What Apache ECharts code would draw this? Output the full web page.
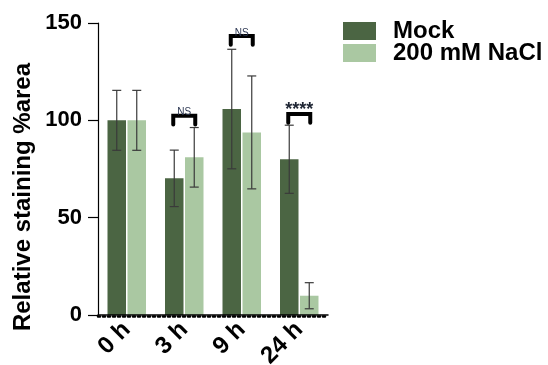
<!DOCTYPE html>
<html>
<head>
<meta charset="utf-8">
<script src="https://cdn.jsdelivr.net/npm/echarts@6/dist/echarts.min.js"></script>
<style>html,body{margin:0;padding:0;background:#fff}#c{width:548px;height:365px}</style>
</head>
<body>
<div id="c"></div>
<script>
var categories = ['0 h', '3 h', '9 h', '24 h'];
var seriesNames = ['Mock', '200 mM NaCl'];
var mockMean = [100, 70.2, 105.8, 80.0];
var mockErr = [15.4, 14.5, 30.7, 17.5];
var naclMean = [100, 81.0, 93.8, 9.9];
var naclErr = [15.4, 15.3, 29.0, 6.7];
var yTicks = [0, 50, 100, 150];
var bracketCats = [1, 2, 3];
var bracketTop = [102.4, 143.3, 103.2];
var bracketDrop = [4.5, 4.5, 4.5];
var bracketLabels = ['NS', 'NS', '****'];
var yTitle = 'Relative staining %area';

var FONT = '"Liberation Sans", Arial, sans-serif';
var BAR_W = 18.5, BAR_GAP_PX = 1.5;
var OFF = (BAR_W + BAR_GAP_PX) / 2;
var DARK = '#4b6543', LIGHT = '#aac8a2';

function errData(mean, err) {
  return mean.map(function (m, i) { return [i, m - err[i], m + err[i]]; });
}
function errSeries(mean, err, sign) {
  return {
    type: 'custom', xAxisIndex: 0, yAxisIndex: 0, silent: true, z: 5,
    data: errData(mean, err),
    renderItem: function (params, api) {
      var lo = api.coord([api.value(0), api.value(1)]);
      var hi = api.coord([api.value(0), api.value(2)]);
      var x = lo[0] + sign * OFF, cw = 4.5;
      var st = { stroke: '#3a3a3a', lineWidth: 1.2, fill: null };
      return { type: 'group', children: [
        { type: 'line', shape: { x1: x, y1: lo[1], x2: x, y2: hi[1] }, style: st },
        { type: 'line', shape: { x1: x - cw, y1: lo[1], x2: x + cw, y2: lo[1] }, style: st },
        { type: 'line', shape: { x1: x - cw, y1: hi[1], x2: x + cw, y2: hi[1] }, style: st }
      ]};
    }
  };
}

var chart = echarts.init(document.getElementById('c'), null, { renderer: 'canvas' });
chart.setOption({
  animation: false,
  backgroundColor: '#fff',
  grid: { left: 98, top: 23, right: 220, bottom: 50, containLabel: false, outerBoundsMode: 'none' },
  legend: {
    data: seriesNames, orient: 'vertical', left: 338, top: 14,
    itemWidth: 33, itemHeight: 18, itemGap: -2,
    icon: 'rect',
    textStyle: { fontFamily: FONT, fontWeight: 'bold', fontSize: 24, color: '#000', lineHeight: 16, padding: [0, 0, 0, 12] }
  },
  xAxis: [{
    type: 'category', data: categories, gridIndex: 0, position: 'bottom', z: 4,
    axisLine: { lineStyle: { color: '#000', width: 1.5 } },
    axisTick: { show: false },
    axisLabel: { rotate: 45, fontFamily: FONT, fontWeight: 'bold', fontSize: 24, color: '#000', margin: 11, interval: 0 }
  }, {
    type: 'value', min: 0, max: 46, interval: 1, gridIndex: 0, position: 'bottom', offset: 1.5, z: 3,
    axisLine: { show: true, onZero: false, lineStyle: { color: '#000', width: 2.5, type: [2, 3] } },
    axisTick: { show: false },
    axisLabel: { show: false }, splitLine: { show: false }
  }],
  yAxis: {
    type: 'value', min: yTicks[0], max: yTicks[yTicks.length - 1], interval: 50,
    axisLine: { show: true, lineStyle: { color: '#000', width: 1.2 } },
    axisTick: { show: true, length: 10, lineStyle: { color: '#000', width: 1.2 } },
    axisLabel: { fontFamily: FONT, fontWeight: 'bold', fontSize: 22, color: '#000', margin: 16 },
    splitLine: { show: false }
  },
  graphic: [{
    type: 'text', rotation: Math.PI / 2, x: 23, y: 197,
    style: { text: yTitle, fontFamily: FONT, fontWeight: 'bold', fontSize: 24, fill: '#000', align: 'center', verticalAlign: 'middle' }
  }],
  series: [
    { name: seriesNames[0], type: 'bar', data: mockMean, barWidth: BAR_W, barGap: (BAR_GAP_PX / BAR_W * 100) + '%',
      itemStyle: { color: DARK } },
    { name: seriesNames[1], type: 'bar', data: naclMean, barWidth: BAR_W,
      itemStyle: { color: LIGHT } },
    errSeries(mockMean, mockErr, -1),
    errSeries(naclMean, naclErr, 1),
    { type: 'line', xAxisIndex: 1, yAxisIndex: 0, data: [[0, 0]], silent: true, showSymbol: false, lineStyle: { width: 0 } },
    {
      type: 'custom', silent: true, z: 6, xAxisIndex: 0, yAxisIndex: 0,
      data: bracketCats.map(function (c, i) { return [c, bracketTop[i], bracketDrop[i], i]; }),
      renderItem: function (params, api) {
        var i = api.value(3);
        var top = api.coord([api.value(0), api.value(1)]);
        var bot = api.coord([api.value(0), api.value(1) - api.value(2)]);
        var hw = 11;
        var x1 = top[0] - hw, x2 = top[0] + hw;
        var lab = bracketLabels[i];
        var isStar = lab.indexOf('*') >= 0;
        return { type: 'group', children: [
          { type: 'polyline', shape: { points: [[x1, bot[1]], [x1, top[1]], [x2, top[1]], [x2, bot[1]]] },
            style: { stroke: '#000', lineWidth: 4, fill: null, lineJoin: 'miter', lineCap: 'round' } },
          { type: 'text', x: top[0], y: top[1] + (isStar ? 5 : 2),
            style: { text: lab, fontFamily: FONT, fontSize: isStar ? 18 : 10, fontWeight: isStar ? 'bold' : 'normal',
              fill: isStar ? '#1e2533' : '#2a3550', align: 'center', verticalAlign: 'bottom' } }
        ]};
      }
    }
  ]
});
</script>
</body>
</html>
